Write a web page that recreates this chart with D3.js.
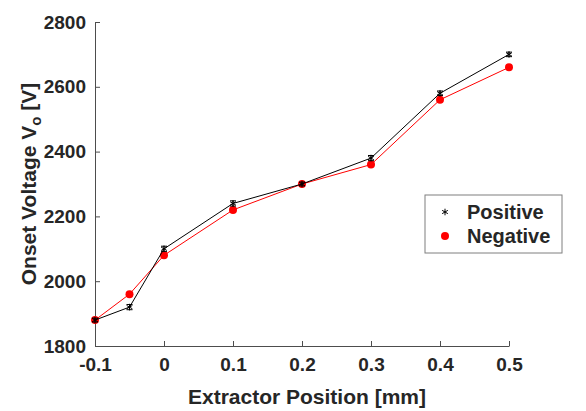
<!DOCTYPE html>
<html>
<head>
<meta charset="utf-8">
<script src="https://cdn.jsdelivr.net/npm/d3@7"></script>
<style>
body { margin: 0; background: #fff; }
text { font-family: "Liberation Sans", Arial, sans-serif; font-weight: bold; fill: #262626; }
</style>
</head>
<body>
<svg id="chart"></svg>
<script>
// extractor position [mm]
var positions = [-0.1, -0.05, 0, 0.1, 0.2, 0.3, 0.4, 0.5];
var positiveV = [1880, 1920, 2100, 2240, 2300, 2380, 2580, 2700];
var positiveErr = [6, 8, 8, 8, 6, 8, 7, 7];
var negativeV = [1880, 1960, 2080, 2220, 2300, 2360, 2560, 2660];
var negativeErr = [5, 5, 6, 6, 5, 6, 6, 5];
var xTicks = [-0.1, 0, 0.1, 0.2, 0.3, 0.4, 0.5];
var yTicks = [1800, 2000, 2200, 2400, 2600, 2800];

var svgWidth = 586, svgHeight = 411;
var margin = {top: 22, right: 77, bottom: 65, left: 95};
var width = svgWidth - margin.left - margin.right;
var height = svgHeight - margin.top - margin.bottom;

var x = d3.scaleLinear().domain([-0.1, 0.5]).range([0, width]);
var y = d3.scaleLinear().domain([1800, 2800]).range([height, 0]);

var svg = d3.select("#chart").attr("width", svgWidth).attr("height", svgHeight);
var g = svg.append("g").attr("transform", "translate(" + margin.left + "," + margin.top + ")");

// axes (ticks inward)
var xAxis = g.append("g").attr("transform", "translate(0," + height + ")")
    .call(d3.axisBottom(x).tickValues(xTicks).tickSizeInner(-5).tickSizeOuter(0).tickPadding(12)
        .tickFormat(function (d) { return d === 0 ? "0" : (d < 0 ? "-" : "") + Math.abs(d).toFixed(1); }));
var yAxis = g.append("g")
    .call(d3.axisLeft(y).tickValues(yTicks).tickSizeInner(-5).tickSizeOuter(0).tickPadding(9)
        .tickFormat(d3.format("d")));
[xAxis, yAxis].forEach(function (a) {
    a.selectAll("path, line").attr("stroke", "#4d4d4d");
    a.selectAll("text").style("font-size", "19px").style("font-family", "Liberation Sans, Arial, sans-serif")
        .style("font-weight", "bold").attr("fill", "#262626");
});
xAxis.selectAll("text").attr("dy", "0.71em");

function drawSeries(vals, errs, color) {
    var pts = positions.map(function (p, i) { return {x: p, y: vals[i], e: errs[i]}; });
    g.append("path").datum(pts)
        .attr("fill", "none").attr("stroke", color).attr("stroke-width", 1)
        .attr("d", d3.line().x(function (d) { return x(d.x); }).y(function (d) { return y(d.y); }));
    var eb = g.append("g").selectAll("g").data(pts).enter().append("g").attr("stroke", color).attr("stroke-width", 1);
    eb.append("line").attr("x1", function (d) { return x(d.x); }).attr("x2", function (d) { return x(d.x); })
        .attr("y1", function (d) { return y(d.y - d.e); }).attr("y2", function (d) { return y(d.y + d.e); });
    [-1, 1].forEach(function (s) {
        eb.append("line").attr("x1", function (d) { return x(d.x) - 3; }).attr("x2", function (d) { return x(d.x) + 3; })
            .attr("y1", function (d) { return y(d.y + s * d.e); }).attr("y2", function (d) { return y(d.y + s * d.e); });
    });
    return pts;
}

var neg = drawSeries(negativeV, negativeErr, "#ff0000");
g.append("g").selectAll("circle").data(neg).enter().append("circle")
    .attr("cx", function (d) { return x(d.x); }).attr("cy", function (d) { return y(d.y); })
    .attr("r", 4).attr("fill", "#ff0000");

var pos = drawSeries(positiveV, positiveErr, "#000000");
var star = d3.symbol().type(d3.symbolAsterisk).size(30);
g.append("g").selectAll("path").data(pos).enter().append("path")
    .attr("transform", function (d) { return "translate(" + x(d.x) + "," + y(d.y) + ")"; })
    .attr("d", star).attr("fill", "none").attr("stroke", "#000").attr("stroke-width", 1);

// legend
var lg = svg.append("g").attr("transform", "translate(425,195)");
lg.append("rect").attr("width", 137).attr("height", 58).attr("fill", "#fff").attr("stroke", "#7f7f7f").attr("stroke-width", 1);
lg.append("path").attr("transform", "translate(20,17)").attr("d", star).attr("fill", "none").attr("stroke", "#000");
lg.append("circle").attr("cx", 20).attr("cy", 41).attr("r", 4).attr("fill", "#ff0000");
lg.append("text").attr("x", 42).attr("y", 24).style("font-size", "20px").attr("fill", "#000").text("Positive");
lg.append("text").attr("x", 42).attr("y", 48).style("font-size", "20px").attr("fill", "#000").text("Negative");

// axis labels
svg.append("text").attr("x", margin.left + width / 2 + 5).attr("y", 404).attr("text-anchor", "middle")
    .style("font-size", "21px").text("Extractor Position [mm]");
var yl = svg.append("text").attr("transform", "translate(36," + (margin.top + height / 2) + ") rotate(-90)")
    .attr("text-anchor", "middle").style("font-size", "21px");
yl.append("tspan").text("Onset Voltage V");
yl.append("tspan").attr("dy", "5").style("font-size", "15px").text("o");
yl.append("tspan").attr("dy", "-5").text(" [V]");
</script>
</body>
</html>
